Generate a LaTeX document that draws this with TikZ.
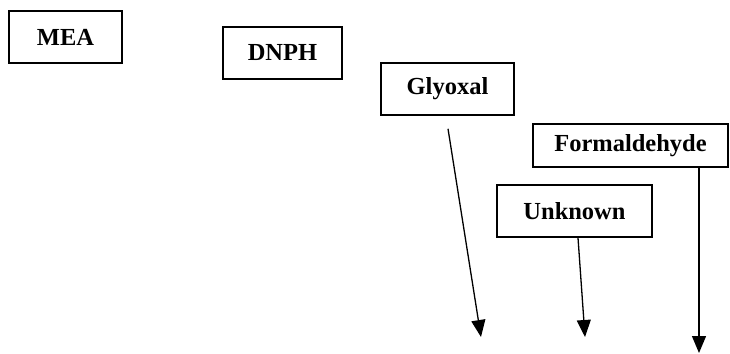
\documentclass[tikz,border=0pt]{standalone}
\usepackage{fontspec}
\setmainfont{Liberation Serif}
\usetikzlibrary{arrows.meta}
\begin{document}
\begin{tikzpicture}[x=1pt,y=-1pt,
  box/.style={draw,line width=1.5pt,inner sep=0pt,font=\fontsize{24.5}{26}\selectfont\bfseries},
  arr/.style={line width=1.3pt,-{Triangle[width=14pt,length=17pt]}}]
\useasboundingbox (0,0) rectangle (730,353);
\node[box,minimum width=113pt,minimum height=52pt] (mea) at (65.5,37) {MEA\hspace{10pt}};
\node[box,minimum width=119pt,minimum height=52pt] (dnph) at (282.5,53) {DNPH};
\node[box,minimum width=133pt,minimum height=52pt] (gly) at (447.5,89) {Glyoxal};
\node[box,minimum width=195pt,minimum height=43pt] (form) at (630.5,145.5) {Formaldehyde};
\node[box,minimum width=155pt,minimum height=52pt] (unk) at (574.5,211) {Unknown};
\coordinate (g1) at (448,128);
\coordinate (g2) at (481,337);
\coordinate (u1) at (578,237);
\coordinate (u2) at (585,337);
\coordinate (f1) at (699,167);
\coordinate (f2) at (699,353);
\draw[arr] (gly.south) ++(0.5,13) -- (g2);
\draw[arr] (unk.south -| u1) -- (u2);
\draw[arr] (form.south -| f1) -- (f2);
\end{tikzpicture}
\end{document}
